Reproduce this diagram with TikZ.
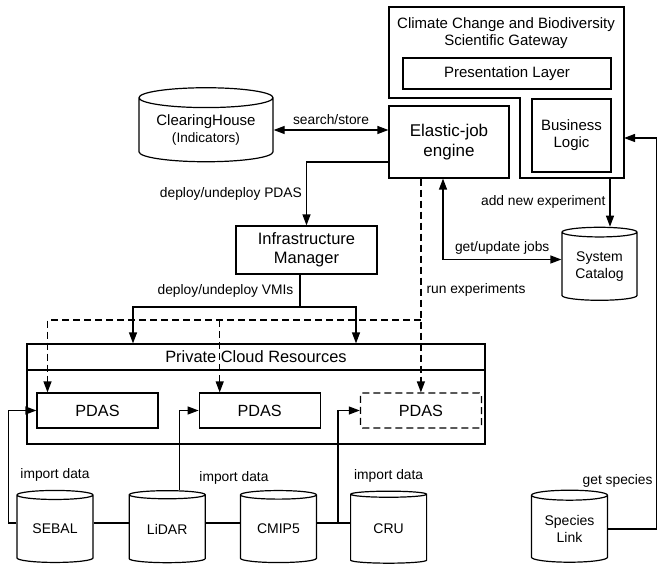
\documentclass[tikz,border=0pt]{standalone}
\usepackage{fontspec}
\setmainfont{Liberation Sans}
\usetikzlibrary{positioning,shapes.geometric,arrows.meta}

\tikzset{
  box/.style={draw, line width=1.2pt, rectangle, inner sep=0pt, align=center, font=\fontsize{15}{17}\selectfont},
  pdasbox/.style={box, minimum width=121pt, minimum height=35pt, font=\fontsize{16.2}{18}\selectfont},
  db/.style={draw, line width=1.2pt, cylinder, shape border rotate=90, aspect=0.2, inner sep=0pt, align=center, font=\fontsize{14}{17}\selectfont},
  lbl/.style={inner sep=0pt, font=\fontsize{13.8}{16}\selectfont},
  link/.style={line width=1.2pt, -{Triangle[length=11pt,width=8pt]}},
  dlink/.style={line width=1.2pt, {Triangle[length=11pt,width=8pt]}-{Triangle[length=11pt,width=8pt]}},
  dashline/.style={dash pattern=on 7pt off 4pt}
}

\begin{document}
\begin{tikzpicture}[x=1pt, y=-1pt]
\useasboundingbox (0,0) rectangle (659,567);

% gateway
\draw[line width=1.2pt] (389,7) -- (624,7) -- (624,178) -- (520,178) -- (520,98) -- (389,98) -- cycle;
\node[align=center, font=\fontsize{15}{17}\selectfont] (gateway) at (506,33.5) {Climate Change and Biodiversity\\Scientific Gateway};
\node[box, minimum width=208pt, minimum height=31pt] (present) at (507,73.5) {Presentation Layer};
\node[box, minimum width=79pt, minimum height=73pt] (business) at (571.5,135.5) {Business\\Logic};
\coordinate (gwbottom) at (610,178);
\coordinate (gwright) at (624,138);

% engine and storage
\node[box, minimum width=120pt, minimum height=72pt, font=\fontsize{17}{20}\selectfont] (elastic) at (449,142) {Elastic-job\\engine};
\node[db, minimum width=134pt, minimum height=74pt, font=\fontsize{15}{17}\selectfont] (clearing) at (206,130) {ClearingHouse\\{\fontsize{13.6}{16}\selectfont(Indicators)}};
\node[db, minimum width=75pt, minimum height=73pt] (catalog) at (599.5,266.5) {System\\Catalog};
\node[box, minimum width=141pt, minimum height=48pt, font=\fontsize{16.5}{19}\selectfont] (infra) at (306.5,250) {Infrastructure\\Manager};

% private cloud
\node[box, minimum width=458pt, minimum height=100pt] (cloud) at (256,394) {};
\node[box, minimum width=458pt, minimum height=26pt, font=\fontsize{16.4}{18}\selectfont] (cloudhead) at (256,357) {Private Cloud Resources};
\node[pdasbox] (pdas1) at (97.5,410.5) {PDAS};
\node[pdasbox, right=40pt of pdas1] (pdas2) {PDAS};
\node[pdasbox, dashline, rounded corners=2pt, right=39pt of pdas2] (pdas3) {PDAS};

% data sources
\node[db, minimum width=76pt, minimum height=72pt] (sebal) at (55,529) {SEBAL};
\node[db, minimum width=76pt, minimum height=72pt, right=35pt of sebal] (lidar) {LiDAR};
\node[db, minimum width=76pt, minimum height=72pt, right=34pt of lidar] (cmip) {CMIP5};
\node[db, minimum width=76pt, minimum height=72pt, right=33pt of cmip] (cru) {CRU};
\node[db, minimum width=76pt, minimum height=72pt] (species) at (569.5,529) {Species\\Link};

\node[lbl, above=8pt of sebal.north] (imp1) {import data};
\node[lbl] (imp2) at (234,478) {import data};
\node[lbl, above=8pt of cru.north] (imp3) {import data};

% connectors
\draw[dlink] (clearing.east) -- (clearing.east -| elastic.west) node[lbl, midway, above=5pt] {search/store};
\draw[link] ([yshift=-20pt]elastic.west) -| (infra.north) node[lbl, pos=0.75, left=4pt] {deploy/undeploy PDAS};

\coordinate (vmi) at (300,307);
\draw[line width=1.2pt] (infra.south -| vmi) -- (vmi) node[lbl, midway, left=6pt] {deploy/undeploy VMIs};
\draw[link] (vmi) -| ([xshift=-123pt]cloudhead.north);
\draw[link] (vmi) -| ([xshift=100pt]cloudhead.north);

\coordinate (drop1) at ([xshift=-50pt]pdas1.north);
\coordinate (drop2) at ([xshift=-40pt]pdas2.north);
\draw[link, dashline] (elastic.south -| pdas3.north) -- (pdas3.north) node[lbl, pos=0.52, right=5pt] {run experiments};
\draw[link, dashline] (pdas3.north |- 0,320) -| (drop1);
\draw[link, dashline] (drop2 |- 0,320) -- (drop2);

\draw[dlink] ([xshift=-6pt]elastic.south) |- ([yshift=7pt]catalog.west) node[lbl, pos=0.75, above=5pt] {get/update jobs};
\draw[link] (gwbottom) -- (catalog.north -| gwbottom) node[lbl, midway, left=4pt] {add new experiment};
\draw[link] (species.east) -- ++(48,0) node[lbl, above left=41pt and 3pt] {get species} |- (gwright);

\draw[link] ([yshift=6pt]sebal.west) -- ++(-8,0) |- (pdas1.west);
\draw[link] ([xshift=12.5pt]lidar.north) |- (pdas2.west);
\draw[link] ([yshift=6pt]cru.west) -- ++(-12,0) |- (pdas3.west);
\draw[line width=1.2pt] ([yshift=6pt]sebal.east) -- ([yshift=6pt]lidar.west);
\draw[line width=1.2pt] ([yshift=6pt]lidar.east) -- ([yshift=6pt]cmip.west);
\draw[line width=1.2pt] ([yshift=6pt]cmip.east) -- ([yshift=6pt]cru.west);
\end{tikzpicture}
\end{document}
